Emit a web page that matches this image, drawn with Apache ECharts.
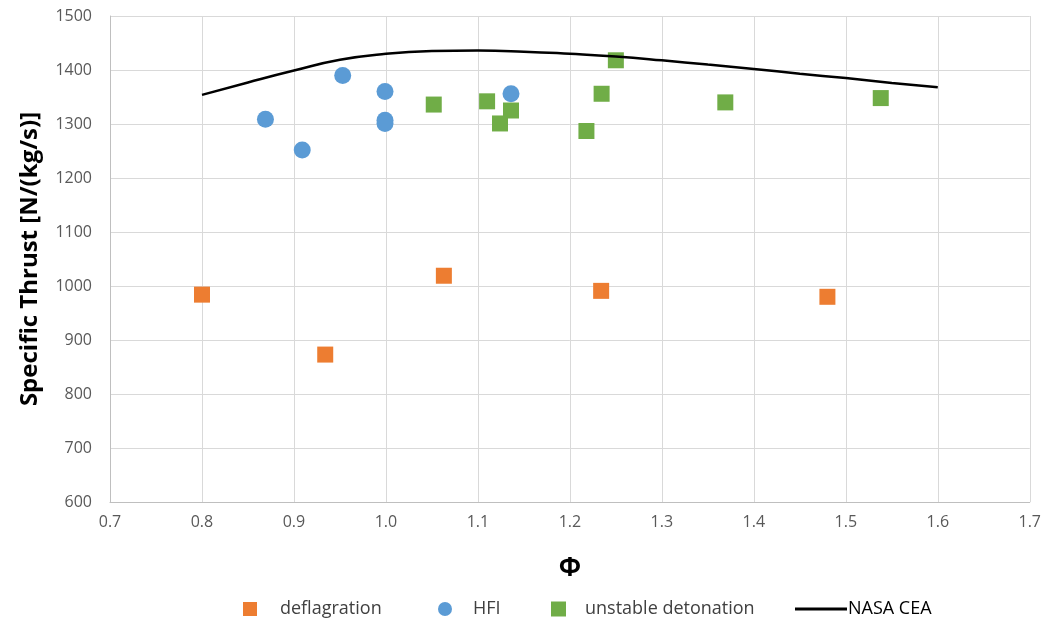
<!DOCTYPE html>
<html><head><meta charset="utf-8">
<script src="https://cdn.jsdelivr.net/npm/echarts@6/dist/echarts.min.js"></script>
<style>html,body{margin:0;padding:0;background:#fff}#c{width:1044px;height:619px}</style>
</head><body><div id="c"></div>
<script>
const deflagration = [[0.80,984],[0.934,873],[1.063,1019],[1.234,991],[1.48,980]];
const hfi = [[0.869,1309],[0.909,1252],[0.953,1390],[0.999,1360],[0.999,1307],[0.999,1301],[1.136,1356]];
const unstable = [[1.052,1336],[1.110,1342],[1.136,1325],[1.124,1301],[1.2345,1356],[1.218,1287],[1.250,1418],[1.369,1340],[1.538,1348]];
const nasaCea = [[0.80,1354],[0.85,1377],[0.90,1399],[0.95,1419],[1.00,1430],[1.05,1435],[1.10,1436],[1.15,1434],[1.20,1430],[1.25,1425],[1.30,1418],[1.35,1410],[1.40,1402],[1.45,1393],[1.50,1385],[1.55,1376],[1.60,1368]];
const xTicks = {min:0.7, max:1.7, step:0.1};
const yTicks = {min:600, max:1500, step:100};

const font = "'Open Sans', sans-serif";
function leg(name, icon, left, w, h, pad, color){
  return {data:[{name:name, icon:icon}], left:left, top:593, itemWidth:w, itemHeight:h, itemGap:0,
    textStyle:{fontSize:18, lineHeight:22, color:color, fontFamily:font, padding:[0,0,0,pad]}};
}
const chart = echarts.init(document.getElementById('c'));
chart.setOption({
  animation:false,
  grid:{left:110, right:14, top:16, bottom:117},
  xAxis:{type:'value', min:xTicks.min, max:xTicks.max, interval:xTicks.step,
    name:'Φ', nameLocation:'middle', nameGap:54,
    nameTextStyle:{fontSize:26, fontWeight:'bold', color:'#000', fontFamily:font},
    axisLine:{show:true, lineStyle:{color:'#bfbfbf'}}, axisTick:{show:false},
    axisLabel:{margin:12, color:'#595959', fontSize:16, fontFamily:font, formatter:v=>v.toFixed(1)},
    splitLine:{show:true, lineStyle:{color:'#d9d9d9', width:1}}},
  yAxis:{type:'value', min:yTicks.min, max:yTicks.max, interval:yTicks.step,
    name:'Specific Thrust [N/(kg/s)]', nameLocation:'middle', nameGap:68,
    nameTextStyle:{fontSize:24, fontWeight:'bold', color:'#000', fontFamily:font},
    axisLine:{show:true, lineStyle:{color:'#bfbfbf'}}, axisTick:{show:false},
    axisLabel:{margin:18, color:'#595959', fontSize:16, fontFamily:font, formatter:v=>String(v)},
    splitLine:{show:true, lineStyle:{color:'#d9d9d9', width:1}}},
  legend:[
    leg('deflagration','rect',238,14,14,18,'#404040'),
    leg('HFI','circle',433,14,14,16,'#404040'),
    leg('unstable detonation','rect',546,15,15,14,'#404040'),
    leg('NASA CEA','rect',790,52,3,-4,'#000')
  ],
  series:[
    {name:'deflagration', type:'scatter', symbol:'rect', symbolSize:16, data:deflagration, itemStyle:{color:'#ED7D31', opacity:1}, z:3},
    {name:'HFI', type:'scatter', symbol:'circle', symbolSize:17, data:hfi, itemStyle:{color:'#5B9BD5', opacity:1}, z:3},
    {name:'unstable detonation', type:'scatter', symbol:'rect', symbolSize:16, data:unstable, itemStyle:{color:'#70AD47', opacity:1}, z:3},
    {name:'NASA CEA', type:'line', smooth:true, symbol:'none', data:nasaCea, lineStyle:{color:'#000', width:2.5}, itemStyle:{color:'#000'}, z:4}
  ]
});
</script></body></html>
